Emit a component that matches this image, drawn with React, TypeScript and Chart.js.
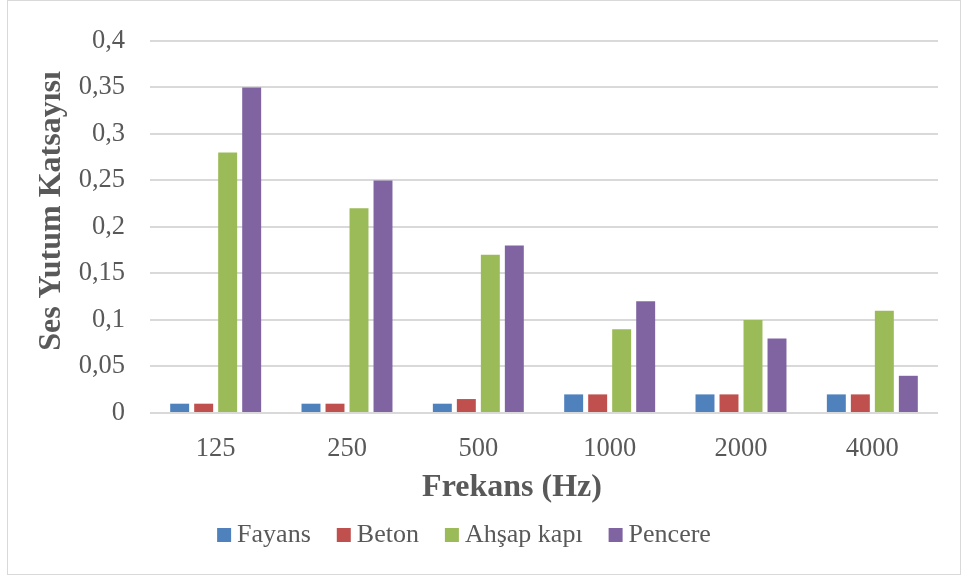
import React, { useEffect, useRef } from "react";
import { Chart, registerables } from "chart.js";

Chart.register(...registerables);

const categories = ["125", "250", "500", "1000", "2000", "4000"];
const fayans = [0.01, 0.01, 0.01, 0.02, 0.02, 0.02];
const beton = [0.01, 0.01, 0.015, 0.02, 0.02, 0.02];
const ahsapKapi = [0.28, 0.22, 0.17, 0.09, 0.1, 0.11];
const pencere = [0.35, 0.25, 0.18, 0.12, 0.08, 0.04];

const seriesNames = ["Fayans", "Beton", "Ahşap kapı", "Pencere"];
const seriesColors = ["#4F81BD", "#C0504D", "#9BBB59", "#8064A2"];

const FONT = "'Liberation Serif', 'Times New Roman', serif";
const TEXT = "#595959";

const legendShift = {
  id: "legendShift",
  afterLayout(chart: any) {
    const l = chart.legend;
    if (l) {
      l.left -= 18;
      l.right -= 18;
    }
  },
};

export default function App() {
  const ref = useRef<HTMLCanvasElement>(null);
  useEffect(() => {
    if (!ref.current) return;
    const values = [fayans, beton, ahsapKapi, pencere];
    const chart = new Chart(ref.current, {
      type: "bar",
      data: {
        labels: categories,
        datasets: values.map((d, i) => ({
          label: seriesNames[i],
          data: d,
          backgroundColor: seriesColors[i],
          borderWidth: 0,
          categoryPercentage: 0.731,
          barPercentage: 0.79,
        })),
      },
      plugins: [legendShift],
      options: {
        animation: false,
        responsive: false,
        maintainAspectRatio: false,
        layout: { padding: { left: 33, right: 23, top: 28, bottom: 21 } },
        plugins: {
          tooltip: { enabled: false },
          legend: {
            position: "bottom",
            labels: {
              font: { family: FONT, size: 26 },
              color: TEXT,
              usePointStyle: true,
              pointStyle: "rect",
              boxWidth: 0.01,
              boxHeight: 14,
              padding: 33,
            },
          },
        },
        scales: {
          x: {
            afterFit: (s: any) => {
              s.height = 76;
            },
            grid: { display: false, drawTicks: false },
            border: { display: false },
            ticks: { font: { family: FONT, size: 26.5 }, color: TEXT, padding: 20 },
            title: {
              display: true,
              text: "Frekans (Hz)        ",
              font: { family: FONT, size: 32, weight: "bold" },
              color: TEXT,
              padding: { top: 0, bottom: -18 },
            },
          },
          y: {
            afterFit: (s: any) => {
              s.width = 117;
            },
            min: 0,
            max: 0.4,
            grid: { color: "#d9d9d9", lineWidth: 2, drawTicks: false },
            border: { display: false },
            ticks: {
              stepSize: 0.05,
              font: { family: FONT, size: 26.5 },
              color: TEXT,
              padding: 25,
              callback: (v: any) => {
                const n = Number(v);
                return String(parseFloat(n.toFixed(3))).replace(".", ",");
              },
            },
            title: {
              display: true,
              text: "    Ses Yutum Katsayısı",
              font: { family: FONT, size: 32, weight: "bold" },
              color: TEXT,
              padding: { top: 0, bottom: 0 },
            },
          },
        },
      },
    });
    return () => chart.destroy();
  }, []);
  return (
    <div>
      <div
        style={{
          position: "absolute",
          left: 7,
          top: 0,
          width: 954,
          height: 575,
          border: "1px solid #d9d9d9",
          boxSizing: "border-box",
          background: "#fff",
        }}
      />
      <canvas
        ref={ref}
        width={961}
        height={579}
        style={{ position: "absolute", left: 0, top: 0, display: "block" }}
      />
    </div>
  );
}
